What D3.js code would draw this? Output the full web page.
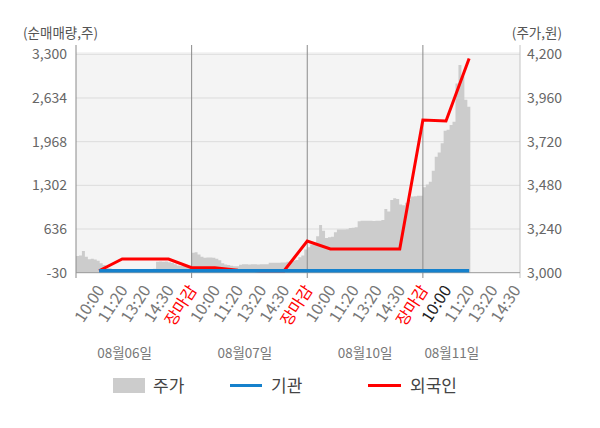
<!DOCTYPE html>
<html>
<head>
<meta charset="utf-8">
<script src="https://cdn.jsdelivr.net/npm/d3@7"></script>
<style>
  body { margin: 0; background: #fff; }
  svg text { font-family: "Noto Sans CJK KR", "Noto Sans", sans-serif; }
</style>
</head>
<body>
<svg id="chart" width="600" height="428"></svg>
<script>
// Trading days shown under the axis
const dates = ["08월06일", "08월07일", "08월10일", "08월11일"];
// Checkpoint labels inside each day
const checkpoints = ["10:00", "11:20", "13:20", "14:30", "장마감"];
// Left axis ticks (net buy, shares) and right axis ticks (price, won)
const volumeTicks = [-30, 636, 1302, 1968, 2634, 3300];
const priceTicks = [3000, 3240, 3480, 3720, 3960, 4200];

// Cumulative net buy at each checkpoint (day1 10:00 ... day4 11:20)
const foreignNet = [0, 179, 179, 179, 46, 46, 8, 0, 0, 453, 331, 331, 331, 331, 2298, 2283, 3236];
const institutionNet = [0, 0, 0, 0, 0, 0, 0, 0, 0, 0, 0, 0, 0, 0, 0, 0, 0];

// Price, 10 minute steps from 09:00
const priceDay1 = [3092, 3095, 3119, 3088, 3074, 3076, 3072, 3066, 3052, 3042, 3026, 3024, 3020,
  3011, 3011, 3019, 3021, 3019, 3021, 3019, 3019, 3020, 3018, 3020, 3019, 3020, 3022,
  3060, 3062, 3060, 3061, 3058, 3053, 3046, 3040, 3037, 3037, 3035, 3037];
const priceDay2 = [3110, 3112, 3100, 3088, 3082, 3084, 3083, 3082, 3076, 3068, 3052, 3045, 3042,
  3038, 3035, 3035, 3044, 3046, 3046, 3045, 3046, 3046, 3045, 3046, 3046, 3047, 3054,
  3055, 3055, 3055, 3056, 3056, 3060, 3062, 3066, 3070, 3085, 3095, 3128];
const priceDay3 = [3140, 3155, 3165, 3200, 3262, 3230, 3190, 3195, 3198, 3222, 3238, 3238, 3238,
  3239, 3246, 3247, 3250, 3283, 3286, 3285, 3285, 3286, 3284, 3286, 3286, 3290, 3350,
  3336, 3400, 3409, 3405, 3375, 3370, 3385, 3400, 3418, 3420, 3423, 3423];
const priceDay4 = [3470, 3485, 3500, 3560, 3637, 3660, 3711, 3780, 3785, 3812, 3830, 4040,
  4141, 4080, 3950, 3912];

const STEPS_PER_DAY = 39;
const SLOTS_PER_DAY = 5;

const svg = d3.select("#chart");
const plotLeft = 76, plotRight = 520, plotTop = 54.3, plotBottom = 272.7;

// x is measured in checkpoint slots, 5 per day
const x = d3.scaleLinear().domain([0, 19.2]).range([plotLeft, plotRight]);
const yVol = d3.scaleLinear().domain([-30, 3300]).range([plotBottom, plotTop]);
const yPrice = d3.scaleLinear().domain([3000, 4200]).range([plotBottom, plotTop]);

// plain hyphen minus, like the original chart
const fmt = d => d.toLocaleString("en-US");

// plot background
svg.append("rect")
  .attr("x", plotLeft).attr("y", plotTop - 2.3)
  .attr("width", plotRight - plotLeft).attr("height", plotBottom - plotTop + 2.3)
  .attr("fill", "#f4f4f4");

// horizontal grid
svg.append("g").selectAll("line")
  .data(volumeTicks.slice(1))
  .join("line")
  .attr("x1", plotLeft).attr("x2", plotRight)
  .attr("y1", d => yVol(d)).attr("y2", d => yVol(d))
  .attr("stroke", "#dcdcdc").attr("stroke-width", 1);

// price area built from all days
const pricePoints = [];
[priceDay1, priceDay2, priceDay3, priceDay4].forEach((day, d) => {
  day.forEach((v, j) => {
    pricePoints.push({ t: d * SLOTS_PER_DAY + SLOTS_PER_DAY * j / STEPS_PER_DAY, v: v });
  });
});
const lastPrice = pricePoints[pricePoints.length - 1];
pricePoints.push({ t: lastPrice.t + SLOTS_PER_DAY / STEPS_PER_DAY, v: lastPrice.v });

const area = d3.area()
  .curve(d3.curveStepAfter)
  .x(d => x(d.t))
  .y0(yPrice(3000))
  .y1(d => yPrice(d.v));

svg.append("path")
  .datum(pricePoints)
  .attr("d", area)
  .attr("fill", "#cccccc");

// day separators + left axis line
svg.append("g").selectAll("line")
  .data(d3.range(dates.length))
  .join("line")
  .attr("x1", d => x(d * SLOTS_PER_DAY)).attr("x2", d => x(d * SLOTS_PER_DAY))
  .attr("y1", 45).attr("y2", 278)
  .attr("stroke", "#8a8a8a").attr("stroke-width", 1);

// right axis line
svg.append("line")
  .attr("x1", plotRight).attr("x2", plotRight).attr("y1", 45).attr("y2", 278)
  .attr("stroke", "#c4c4c4");

// bottom axis line
svg.append("line")
  .attr("x1", plotLeft).attr("x2", plotRight).attr("y1", plotBottom).attr("y2", plotBottom)
  .attr("stroke", "#999");

// net buy lines, checkpoint i sits at slot i + 1
const netLine = d3.line()
  .x((d, i) => x(i + 1))
  .y(d => yVol(d));

svg.append("path")
  .datum(foreignNet)
  .attr("d", netLine)
  .attr("fill", "none")
  .attr("stroke", "#ff0000").attr("stroke-width", 3);

svg.append("path")
  .datum(institutionNet)
  .attr("d", netLine)
  .attr("fill", "none")
  .attr("stroke", "#1581cc").attr("stroke-width", 3.5);

// left ticks
svg.append("g").selectAll("text")
  .data(volumeTicks)
  .join("text")
  .attr("x", 67).attr("y", d => yVol(d)).attr("dy", "0.35em")
  .attr("text-anchor", "end")
  .attr("font-size", 14).attr("fill", "#666")
  .text(fmt);

// right ticks
svg.append("g").selectAll("text")
  .data(priceTicks)
  .join("text")
  .attr("x", 527).attr("y", d => yPrice(d)).attr("dy", "0.35em")
  .attr("font-size", 14).attr("fill", "#666")
  .text(fmt);

// axis titles
svg.append("text").attr("x", 23).attr("y", 38)
  .attr("font-size", 13.5).attr("fill", "#555").text("(순매매량,주)");
svg.append("text").attr("x", 562).attr("y", 38).attr("text-anchor", "end")
  .attr("font-size", 13.5).attr("fill", "#555").text("(주가,원)");

// checkpoint labels along x
const slotLabels = [];
dates.forEach((date, d) => {
  checkpoints.forEach((c, k) => {
    const slot = d * SLOTS_PER_DAY + k + 1;
    if (slot <= foreignNet.length + 2) slotLabels.push({ slot: slot, text: c, current: d === 3 && k === 0 });
  });
});

svg.append("g").selectAll("text")
  .data(slotLabels)
  .join("text")
  .attr("transform", d => `translate(${x(d.slot) + 6},290) rotate(-57)`)
  .attr("text-anchor", "end")
  .attr("font-size", 16)
  .attr("fill", d => d.text === "장마감" ? "#ff0000" : (d.current ? "#222" : "#777"))
  .text(d => d.text);

// date labels
const dateOffsets = [2.1, 2.3, 2.5, 1.25];
svg.append("g").selectAll("text")
  .data(dates)
  .join("text")
  .attr("x", (d, i) => x(i * SLOTS_PER_DAY + dateOffsets[i]))
  .attr("y", 358)
  .attr("text-anchor", "middle")
  .attr("font-size", 13.5).attr("fill", "#777")
  .text(d => d);

// legend
const legend = svg.append("g");
legend.append("rect").attr("x", 113).attr("y", 378).attr("width", 32).attr("height", 15).attr("fill", "#cccccc");
legend.append("text").attr("x", 153).attr("y", 391.5).attr("font-size", 17).attr("fill", "#444").text("주가");
legend.append("line").attr("x1", 230).attr("x2", 262).attr("y1", 385.5).attr("y2", 385.5)
  .attr("stroke", "#1581cc").attr("stroke-width", 3);
legend.append("text").attr("x", 271).attr("y", 391.5).attr("font-size", 17).attr("fill", "#444").text("기관");
legend.append("line").attr("x1", 368).attr("x2", 401).attr("y1", 385.5).attr("y2", 385.5)
  .attr("stroke", "#ff0000").attr("stroke-width", 3);
legend.append("text").attr("x", 410).attr("y", 391.5).attr("font-size", 17).attr("fill", "#444").text("외국인");
</script>
</body>
</html>
